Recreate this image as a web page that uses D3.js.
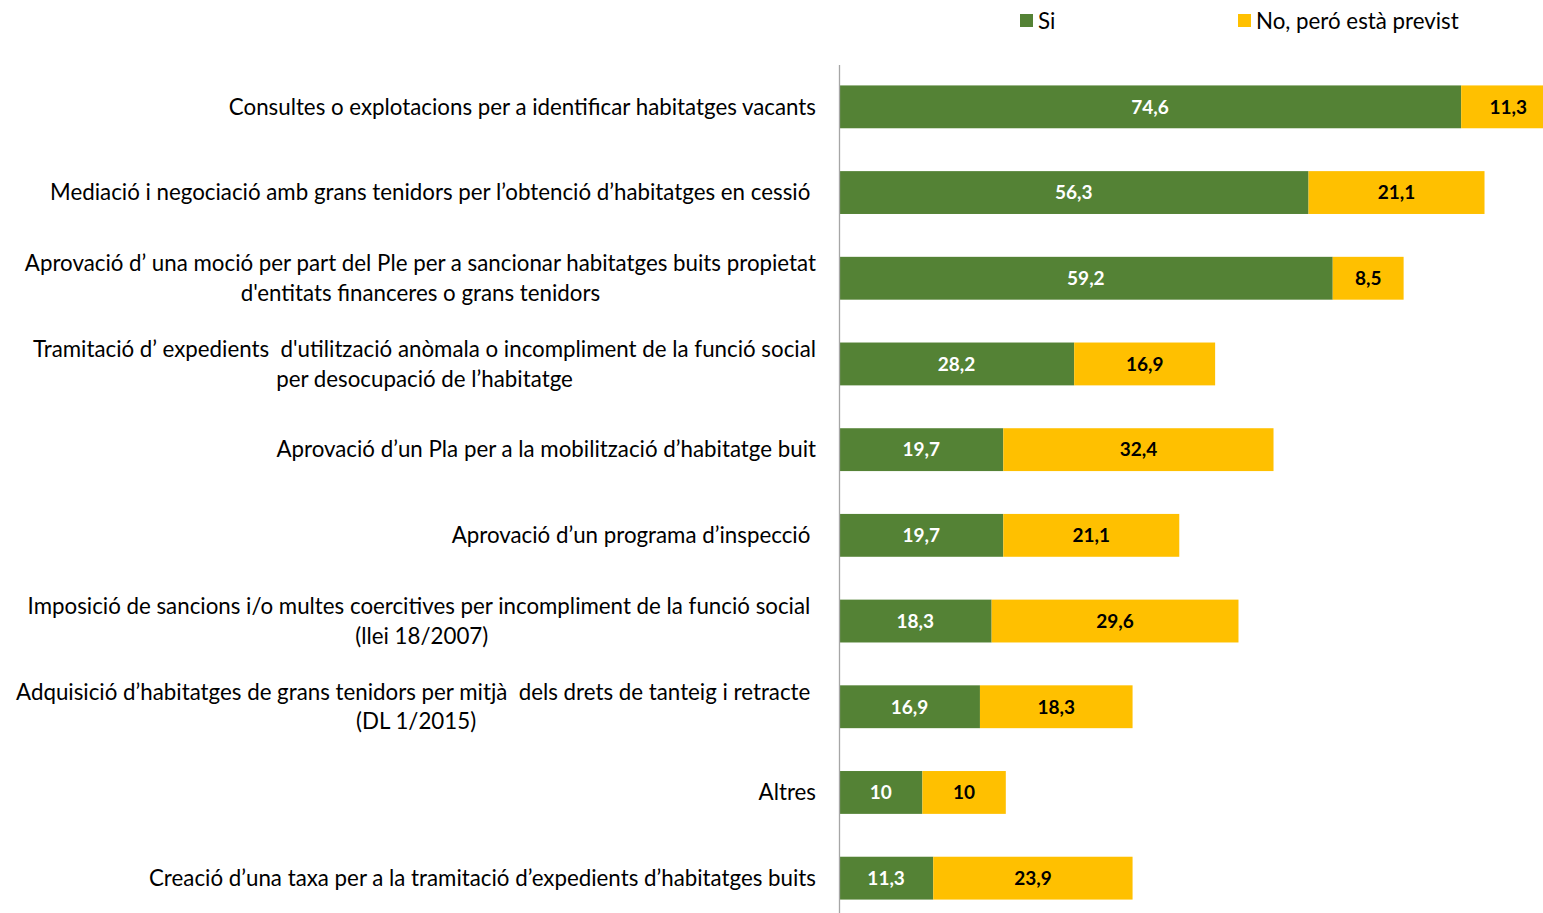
<!DOCTYPE html>
<html><head><meta charset="utf-8">
<script src="https://cdn.jsdelivr.net/npm/d3@7"></script>
<style>body{margin:0;background:#fff}svg{display:block}text{white-space:pre}</style>
</head><body>
<svg id="c" width="1543" height="913"></svg>
<script>
const categories = [
  ["Consultes o explotacions per a identificar habitatges vacants"],
  ["Mediació i negociació amb grans tenidors per l’obtenció d’habitatges en cessió "],
  ["Aprovació d’ una moció per part del Ple per a sancionar habitatges buits propietat", "d'entitats financeres o grans tenidors"],
  ["Tramitació d’ expedients  d'utilització anòmala o incompliment de la funció social", "per desocupació de l’habitatge"],
  ["Aprovació d’un Pla per a la mobilització d’habitatge buit"],
  ["Aprovació d’un programa d’inspecció "],
  ["Imposició de sancions i/o multes coercitives per incompliment de la funció social ", "(llei 18/2007)"],
  ["Adquisició d’habitatges de grans tenidors per mitjà  dels drets de tanteig i retracte ", "(DL 1/2015)"],
  ["Altres"],
  ["Creació d’una taxa per a la tramitació d’expedients d’habitatges buits"]
];
const siValues = [74.6, 56.3, 59.2, 28.2, 19.7, 19.7, 18.3, 16.9, 10, 11.3];
const previstValues = [11.3, 21.1, 8.5, 16.9, 32.4, 21.1, 29.6, 18.3, 10, 23.9];
const seriesNames = ["Si", "No, peró està previst"];
const colors = ["#548235", "#FFC000"];
const labelColors = ["#ffffff", "#000000"];

const fmt = v => String(v).replace(".", ",");
const svg = d3.select("#c");
const FONT = "Lato, 'Open Sans', sans-serif";
const idx = d3.range(categories.length);
const x = d3.scaleLinear().domain([0, 100]).range([839, 839 + 834]);
const y = d3.scaleBand().domain(idx).range([64, 921]).paddingInner(0.5).paddingOuter(0.25);

const stackData = idx.map(i => ({i, s0: siValues[i], s1: previstValues[i]}));
const stack = d3.stack().keys(["s0", "s1"])(stackData);
const vals = [siValues, previstValues];

stack.forEach((layer, k) => {
  const g = svg.append("g");
  g.selectAll("rect").data(layer).join("rect")
    .attr("x", d => x(d[0])).attr("width", d => x(d[1]) - x(d[0]))
    .attr("y", d => y(d.data.i)).attr("height", y.bandwidth())
    .attr("fill", colors[k]);
  g.selectAll("text").data(layer).join("text")
    .attr("x", d => (x(d[0]) + x(d[1])) / 2)
    .attr("y", d => y(d.data.i) + y.bandwidth() / 2)
    .attr("dy", "0.36em")
    .attr("text-anchor", "middle")
    .attr("font-family", FONT).attr("font-weight", "bold").attr("font-size", 19)
    .attr("fill", labelColors[k])
    .text(d => fmt(vals[k][d.data.i]));
});

// axis line
svg.append("line").attr("x1", 839.5).attr("x2", 839.5).attr("y1", 65).attr("y2", 913)
  .attr("stroke", "#a6a6a6").attr("stroke-width", 1.3);

// category labels
const rightEdge = 816;
const lh = 29.5;
idx.forEach(i => {
  const lines = categories[i];
  const cy = y(i) + y.bandwidth() / 2;
  const g = svg.append("g");
  const ts = lines.map((l, j) => g.append("text")
    .attr("font-family", FONT).attr("font-size", 22.3).attr("fill", "#000")
    .attr("y", cy + (j - (lines.length - 1) / 2) * lh).attr("dy", "0.35em")
    .text(l));
  const widths = ts.map(t => t.node().getComputedTextLength());
  const maxW = d3.max(widths);
  const center = rightEdge - maxW / 2;
  ts.forEach(t => t.attr("text-anchor", "middle").attr("x", center));
});

// legend
const legX = [1020, 1238];
seriesNames.forEach((n, k) => {
  svg.append("rect").attr("x", legX[k]).attr("y", 14).attr("width", 13).attr("height", 13).attr("fill", colors[k]);
  svg.append("text").attr("x", legX[k] + 18).attr("y", 21).attr("dy", "0.35em")
    .attr("font-family", FONT).attr("font-size", 22.3).attr("fill", "#000").text(n);
});
</script>
</body></html>
